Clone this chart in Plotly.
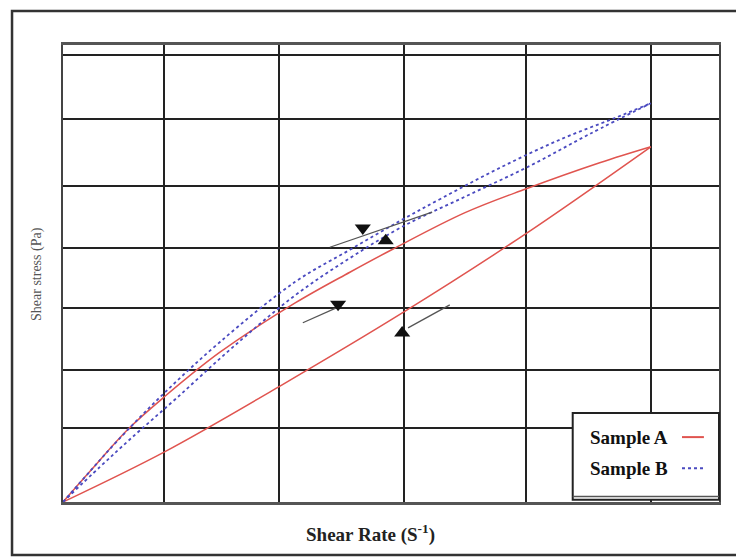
import plotly.graph_objects as go

# Shear rate (1/s) and shear stress (Pa) for the two hysteresis loops
a_lower_rate = [0, 17.2, 36.7, 58.0, 78.7, 100]
a_lower_stress = [0, 7.8, 18.0, 29.7, 41.9, 55.5]

a_upper_rate = [0, 4.6, 11.1, 17.2, 26.7, 39.5, 48.8, 56.0, 68.4, 78.7, 91.3, 100]
a_upper_stress = [0, 4.8, 11.4, 16.4, 23.4, 31.1, 35.9, 39.45, 45.2, 48.9, 53.0, 55.5]

b_upper_rate = [0, 4.6, 9.4, 17.2, 26.7, 39.5, 48.8, 57.3, 64.5, 74.3, 84.5, 93.9, 100]
b_upper_stress = [0, 4.8, 9.7, 17.0, 25.0, 34.4, 39.4, 43.9, 47.5, 52.2, 56.6, 60.0, 62.3]

b_lower_rate = [0, 6.3, 11.4, 19.4, 28.9, 39.5, 48.8, 57.7, 68.4, 79.4, 89.6, 100]
b_lower_stress = [0, 5.5, 9.8, 16.3, 24.2, 32.3, 38.1, 43.0, 47.7, 52.5, 57.5, 62.3]

# Direction guides (line segments) and their arrow heads
guide_rate = [[45.4, 62.8], [40.8, 46.4], [58.7, 65.8]]
guide_stress = [[39.8, 45.3], [28.0, 30.3], [27.2, 30.8]]
head_down_rate = [51.0, 46.8]
head_down_stress = [42.8, 30.9]
head_up_rate = [54.9, 57.7]
head_up_stress = [40.8, 26.4]

# Grid positions (unlabelled axes)
x_grid = [17.2, 36.7, 58.0, 78.7, 100.0]
y_grid = [11.6, 20.6, 30.3, 39.7, 49.4, 59.8, 69.8]

RED = "#e0544f"
BLUE = "#4a4ac0"
SERIF = "Liberation Serif"

fig = go.Figure()

for xs, ys in [(a_lower_rate, a_lower_stress), (a_upper_rate, a_upper_stress)]:
    fig.add_trace(go.Scatter(
        x=xs, y=ys, mode="lines", name="Sample A",
        line=dict(color=RED, width=1.5, shape="spline", smoothing=1.0),
        showlegend=False, hoverinfo="skip"))

for xs, ys in [(b_upper_rate, b_upper_stress), (b_lower_rate, b_lower_stress)]:
    fig.add_trace(go.Scatter(
        x=xs, y=ys, mode="lines", name="Sample B",
        line=dict(color=BLUE, width=1.8, dash="3px,3px", shape="spline", smoothing=1.0),
        showlegend=False, hoverinfo="skip"))

for xs, ys in zip(guide_rate, guide_stress):
    fig.add_trace(go.Scatter(
        x=xs, y=ys, mode="lines", line=dict(color="#555555", width=1.3),
        showlegend=False, hoverinfo="skip"))

fig.add_trace(go.Scatter(
    x=head_down_rate, y=head_down_stress, mode="markers",
    marker=dict(symbol="triangle-down", size=14, color="#111111"),
    showlegend=False, hoverinfo="skip"))
fig.add_trace(go.Scatter(
    x=head_up_rate, y=head_up_stress, mode="markers",
    marker=dict(symbol="triangle-up", size=14, color="#111111"),
    showlegend=False, hoverinfo="skip"))

fig.update_xaxes(
    range=[0, 111.6], tickvals=x_grid, showticklabels=False, ticks="",
    showgrid=True, gridcolor="#222222", gridwidth=2, zeroline=False,
    showline=True, linecolor="#555555", linewidth=2.5, mirror=True)
fig.update_yaxes(
    range=[0, 71.4], tickvals=y_grid, showticklabels=False, ticks="",
    showgrid=True, gridcolor="#222222", gridwidth=2, zeroline=False,
    showline=True, linecolor="#444444", linewidth=2, mirror=True)

shapes = [
    # outer frame
    dict(type="rect", xref="paper", yref="paper", x0=-0.0777, x1=1.04, y0=-0.116, y1=1.0744,
         line=dict(color="#333333", width=2.5), layer="below"),
    # legend box
    dict(type="rect", xref="paper", yref="paper", x0=0.777, x1=1.0, y0=0.005, y1=0.195,
         line=dict(color="#222222", width=2), fillcolor="white"),
    dict(type="line", xref="paper", yref="paper", x0=0.777, x1=1.0, y0=0.012, y1=0.012,
         line=dict(color="#555555", width=1.5)),
    dict(type="line", xref="paper", yref="paper", x0=0.9436, x1=0.977, y0=0.142, y1=0.142,
         line=dict(color=RED, width=2)),
    dict(type="line", xref="paper", yref="paper", x0=0.9436, x1=0.977, y0=0.074, y1=0.074,
         line=dict(color=BLUE, width=2, dash="3px,3px")),
]

annotations = [
    dict(text="<b>Sample A</b>", xref="paper", yref="paper", x=0.800, y=0.142,
         xanchor="left", yanchor="middle", showarrow=False,
         font=dict(family=SERIF, size=19, color="#111111")),
    dict(text="<b>Sample B</b>", xref="paper", yref="paper", x=0.800, y=0.074,
         xanchor="left", yanchor="middle", showarrow=False,
         font=dict(family=SERIF, size=19, color="#111111")),
    dict(text="<b>Shear Rate (S<sup>-1</sup>)</b>", xref="paper", yref="paper",
         x=0.4695, y=-0.068, xanchor="center", yanchor="middle", showarrow=False,
         font=dict(family=SERIF, size=19, color="#222222")),
    dict(text="Shear stress (Pa)", xref="paper", yref="paper", textangle=-90,
         x=-0.0396, y=0.499, xanchor="center", yanchor="middle", showarrow=False,
         font=dict(family=SERIF, size=14, color="#555555")),
]

fig.update_layout(
    width=736, height=557,
    margin=dict(l=63, r=17, t=45, b=55),
    paper_bgcolor="white", plot_bgcolor="white",
    shapes=shapes, annotations=annotations,
    showlegend=False,
)

fig.write_html("out.html")
